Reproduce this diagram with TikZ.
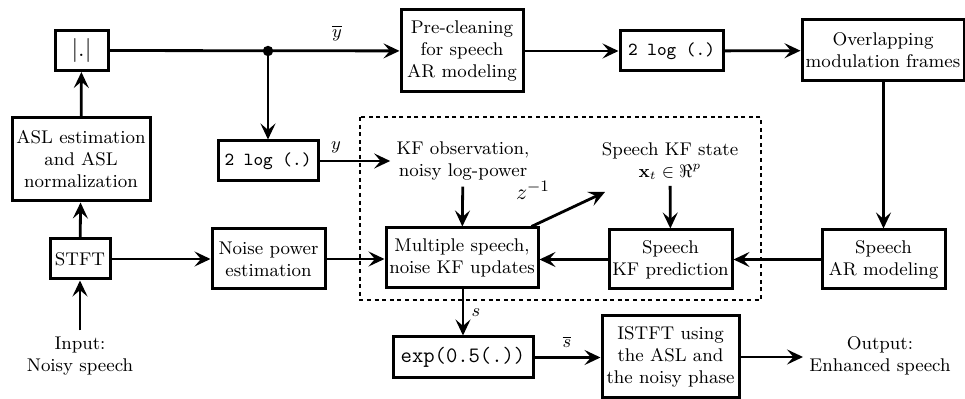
\documentclass[tikz,border=0pt]{standalone}
\usetikzlibrary{arrows.meta,calc}
\begin{document}
\begin{tikzpicture}[x=0.5pt,y=-0.5pt,
 box/.style={draw, line width=1.5pt, inner sep=1pt, align=center, font=\fontsize{9.2}{11}\selectfont},
 txt/.style={align=center, inner sep=3pt, font=\fontsize{9.2}{11}\selectfont},
 arr/.style={line width=1.4pt, -{Stealth[length=8pt,width=7.5pt,inset=3.2pt]}},
 lbl/.style={inner sep=0pt, font=\fontsize{9.5}{11}\selectfont},
 kfbox/.style={line width=1.4pt, dash pattern=on 2pt off 1.8pt},
]
\useasboundingbox (0,0) rectangle (965,399);

% boxes
\node[box, minimum width=26.5pt, minimum height=20pt] (abs) at (81.5,50.5) {\fontsize{12}{13}\selectfont$|.|$};
\node[box, minimum width=61pt, minimum height=41pt] (pre) at (462,51) {Pre-cleaning\\for speech\\AR modeling};
\node[box, minimum width=51.5pt, minimum height=20pt] (logb) at (671.5,51) {\texttt{2 log (.)}};
\node[box, minimum width=81pt, minimum height=30.5pt] (ovl) at (883,50.5) {Overlapping\\modulation frames};
\node[box, minimum width=69pt, minimum height=41.5pt] (asl) at (81,159.5) {ASL estimation\\and ASL\\normalization};
\node[box, minimum width=50pt, minimum height=20pt] (loga) at (268,161) {\texttt{2 log (.)}};
\node[txt] (kfobs) at (463,161) {KF observation,\\noisy log-power};
\node[txt] (kfstate) at (670,161) {Speech KF state\\$\mathbf{x}_t\in\Re^{p}$};
\node[box, minimum width=30pt, minimum height=20pt] (stft) at (80,259) {STFT};
\node[box, minimum width=56.5pt, minimum height=30pt] (noise) at (268.5,259) {Noise power\\estimation};
\node[box, minimum width=76pt, minimum height=30pt] (multi) at (462,258) {Multiple speech,\\noise KF updates};
\node[box, minimum width=61.5pt, minimum height=29.5pt] (kfpred) at (670.5,259.5) {Speech\\KF prediction};
\node[box, minimum width=61.5pt, minimum height=29.5pt] (ar) at (883.5,259.5) {Speech\\AR modeling};
\node[box, minimum width=70pt, minimum height=20.5pt] (expb) at (463,357.5) {\fontsize{11}{13}\selectfont\texttt{exp(0.5(.))}};
\node[box, minimum width=68.5pt, minimum height=41pt] (istft) at (670.5,357) {ISTFT using\\the ASL and\\the noisy phase};
\node[txt] (inp) at (80,356) {Input:\\Noisy speech};
\node[txt] (outp) at (880,356) {Output:\\Enhanced speech};

% KF region
\draw[kfbox] (360,117) rectangle (761,300);

% coordinates
\coordinate (split) at (268,51);
\coordinate (zend) at (605,192);

% connectors
\draw[arr] (abs) -- (pre);
\fill (split) circle (2.6pt);
\draw[arr] (split) -- (loga);
\draw[arr] (pre) -- (logb);
\draw[arr] (logb) -- (ovl);
\draw[arr] (ovl.south -| ar.north) -- (ar.north);
\draw[arr] (asl) -- (abs);
\draw[arr] (stft) -- (asl);
\draw[arr] (inp) -- (stft);
\draw[arr] (loga) -- (kfobs);
\draw[arr] (kfobs) -- (multi);
\draw[arr] ($(multi.north east)+(-8,0)$) -- (zend);
\draw[arr] (kfstate) -- (kfpred);
\draw[arr] (kfpred) -- (multi.east |- kfpred.west);
\draw[arr] (ar) -- (kfpred);
\draw[arr] (stft) -- (noise);
\draw[arr] (noise) -- (multi.west |- noise.east);
\draw[arr] (multi.south -| expb.north) -- (expb);
\draw[arr] (expb) -- (istft.west |- expb.east);
\draw[arr] (istft) -- (outp.west |- istft.east);

% labels
\node[lbl] (ybar) at (337,33) {$\overline{y}$};
\node[lbl] (ylab) at (336,147) {$y$};
\node[lbl, font=\fontsize{11}{12}\selectfont] (zinv) at (533,190) {$z^{-1}$};
\node[lbl] (slab) at (476,313) {$s$};
\node[lbl] (sbar) at (567,342) {$\overline{s}$};
\end{tikzpicture}
\end{document}
